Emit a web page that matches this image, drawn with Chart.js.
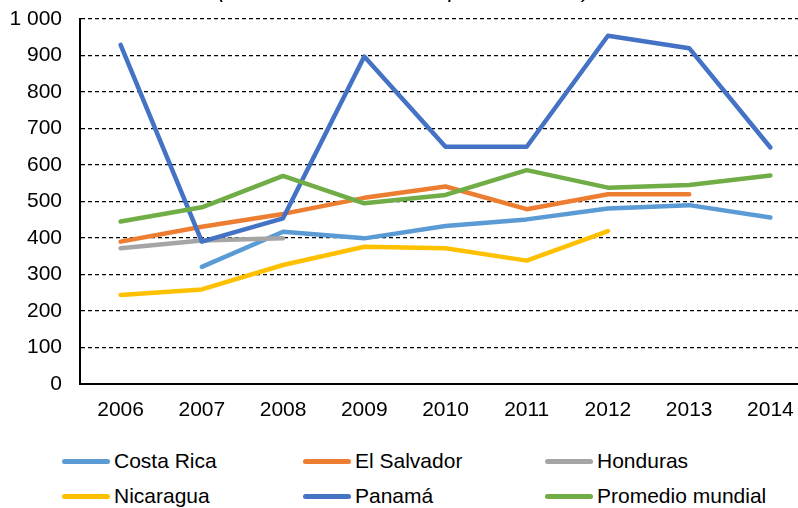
<!DOCTYPE html>
<html>
<head>
<meta charset="utf-8">
<script src="https://cdn.jsdelivr.net/npm/chart.js@4/dist/chart.umd.min.js"></script>
<style>
  html, body { margin: 0; padding: 0; background: #fff; overflow: hidden; width: 798px; height: 508px; }
  #wrap { position: absolute; left: 0; top: 0; width: 811px; height: 440px; }
  #title { position: absolute; left: 0; width: 808px; top: -21px; text-align: center; font: italic 23px "Liberation Sans", Arial, sans-serif; line-height: 20px; color: #000; white-space: nowrap; }
  #legend { position: absolute; left: 0; top: 444px; width: 798px; height: 64px; font: 21px "Liberation Sans", Arial, sans-serif; color: #000; }
  .item { position: absolute; height: 34px; display: flex; align-items: center; white-space: nowrap; }
  .sw { width: 48px; height: 5px; border-radius: 3px; margin-right: 4px; }
</style>
</head>
<body>
<div id="wrap"><canvas id="c" width="811" height="440"></canvas></div>
<div id="title">(En dólares corrientes por habitante)</div>
<div id="legend"></div>
<script>
const years = ['2006','2007','2008','2009','2010','2011','2012','2013','2014'];
const costaRica  = [null, 321, 417, 399, 433, 451, 481, 490, 456];
const elSalvador = [390, 431, 466, 510, 541, 479, 520, 520, null];
const honduras   = [372, 393, 399, null, null, null, null, null, null];
const nicaragua  = [244, 259, 326, 376, 372, 338, 419, null, null];
const panama     = [929, 390, 454, 897, 650, 650, 954, 920, 648];
const promedio   = [445, 484, 570, 495, 518, 586, 538, 545, 571];
const seriesNames = ['Costa Rica','El Salvador','Honduras','Nicaragua','Panamá','Promedio mundial'];
const seriesColors = ['#5B9BD5','#ED7D31','#A5A5A5','#FFC000','#4472C4','#70AD47'];
const seriesData = [costaRica, elSalvador, honduras, nicaragua, panama, promedio];
const yTicks = { min: 0, max: 1000, step: 100 };

const datasets = seriesData.map((d, i) => ({
  label: seriesNames[i],
  data: d,
  borderColor: seriesColors[i],
  backgroundColor: seriesColors[i],
  borderWidth: 4.5,
  pointRadius: 0,
  pointHoverRadius: 0,
  tension: 0,
  spanGaps: false,
  borderCapStyle: 'round',
  borderJoinStyle: 'round',
  order: seriesData.length - i
}));

const FONT = { family: '"Liberation Sans", Arial, sans-serif', size: 21 };

new Chart(document.getElementById('c'), {
  type: 'line',
  data: { labels: years, datasets },
  options: {
    responsive: false,
    animation: false,
    events: [],
    layout: { padding: { top: 19, right: 0, bottom: 0, left: 0 } },
    plugins: { legend: { display: false }, title: { display: false }, tooltip: { enabled: false } },
    scales: {
      x: {
        offset: true,
        grid: { color: 'rgba(0,0,0,0)', drawTicks: false },
        border: { display: true, color: '#000', width: 2 },
        ticks: { color: '#000', font: FONT, padding: 14, maxRotation: 0, autoSkip: false },
        afterFit: s => { s.height = 56; s.paddingLeft = 0; s.paddingRight = 0; }
      },
      y: {
        min: yTicks.min, max: yTicks.max,
        grid: { color: '#000', lineWidth: 1.2, drawTicks: false },
        border: { display: true, color: '#000', width: 2, dash: [4, 3] },
        ticks: {
          stepSize: yTicks.step, color: '#000', font: FONT, padding: 18,
          callback: v => v >= 1000 ? String(v).replace(/\B(?=(\d{3})+(?!\d))/g, ' ') : String(v)
        },
        afterFit: s => { s.width = 80; s.paddingTop = 0; s.paddingBottom = 0; }
      }
    }
  }
});

// legend
const leg = document.getElementById('legend');
const colX = [62, 303, 545];
seriesNames.forEach((n, i) => {
  const it = document.createElement('div');
  it.className = 'item';
  it.style.left = colX[i % 3] + 'px';
  it.style.top = (Math.floor(i / 3) * 35) + 'px';
  const sw = document.createElement('div');
  sw.className = 'sw';
  sw.style.background = seriesColors[i];
  const tx = document.createElement('span');
  tx.textContent = n;
  it.appendChild(sw); it.appendChild(tx);
  leg.appendChild(it);
});
</script>
</body>
</html>
